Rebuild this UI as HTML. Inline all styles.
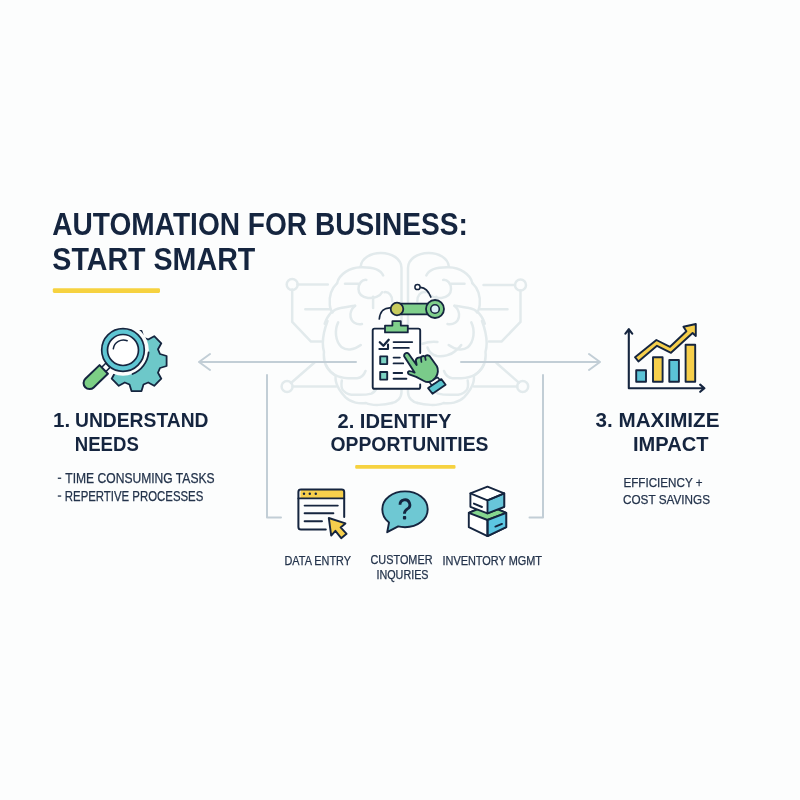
<!DOCTYPE html>
<html><head><meta charset="utf-8">
<style>
html,body{margin:0;padding:0;background:#fcfdfd;}
body{width:800px;height:800px;overflow:hidden;position:relative;}
svg{position:absolute;left:0;top:0;will-change:transform;}
text{font-family:"Liberation Sans",sans-serif;}
.t{fill:#15253f;font-weight:700;}
.s{fill:#23334b;font-weight:400;stroke:#23334b;stroke-width:0.25;}
</style></head><body>
<svg width="800" height="800" viewBox="0 0 800 800">
<!-- brain background -->
<g id="brain" fill="none" stroke="#e2eaec" stroke-width="2.5" stroke-linecap="round" stroke-linejoin="round">
 <g>
  <path d="M360.7 266.4 C361.5 258 371 252.8 381 252.9 C392 253 401.5 259 401.5 268 V392 C401.5 398 397 402 392 403"/>
  <path d="M337.1 283.2 C339 274 350 267.5 360.7 267.2 C370 267 380.5 269 383.2 275.4"/>
  <path d="M337.1 283.2 C331 289 329 297 329.8 305 C330.3 309 331 311 332.6 312.5"/>
  <path d="M324.7 323.7 C328 314 334 309 340.5 308 C346 307 352 306 355.1 305.7"/>
  <path d="M327.5 321 C323 333 322 345 324 352 C323 362 326 370 335.8 375.8 C334.5 382 337 388 345.3 397.2 C351 403 360 404 366 403 C372 406 385 405 392 403"/>
  <path d="M366.4 279.9 C362 279.5 358.5 283 358.5 289 C358.5 294 362 297 368 297.9 C374 298.5 380 296.5 382.1 292.2"/>
  <path d="M384.4 292.2 C389 291.5 392.5 296 392.2 301.2"/>
  <path d="M338.2 322.4 C334.5 330 335 341 341.8 347.3 C346 350.5 353.5 350.5 360.8 345"/>
  <path d="M326 365 C332 377 342 379 357.2 378.2 C361 377.8 364 375 365.5 371"/>
  <path d="M341.8 380.6 C341 386 342 390 344.1 391.3 C348 395 352 395 356 394.8 C362 395 368 394.5 371.4 393.6 C374.5 392 376.5 389 377.4 386.5"/>
  <path d="M373.1 296.7 V308"/>
  <path d="M345 283.8 H358.5"/>
  <path d="M355.1 305.7 C351 309 350 314 350.6 317 C351.5 322 356 325 362 324"/>
 </g>
 <g transform="matrix(-1 0 0 1 809.5 0)">
  <path d="M360.7 266.4 C361.5 258 371 252.8 381 252.9 C392 253 401.5 259 401.5 268 V392 C401.5 398 397 402 392 403"/>
  <path d="M337.1 283.2 C339 274 350 267.5 360.7 267.2 C370 267 380.5 269 383.2 275.4"/>
  <path d="M337.1 283.2 C331 289 329 297 329.8 305 C330.3 309 331 311 332.6 312.5"/>
  <path d="M324.7 323.7 C328 314 334 309 340.5 308 C346 307 352 306 355.1 305.7"/>
  <path d="M327.5 321 C323 333 322 345 324 352 C323 362 326 370 335.8 375.8 C334.5 382 337 388 345.3 397.2 C351 403 360 404 366 403 C372 406 385 405 392 403"/>
  <path d="M366.4 279.9 C362 279.5 358.5 283 358.5 289 C358.5 294 362 297 368 297.9 C374 298.5 380 296.5 382.1 292.2"/>
  <path d="M384.4 292.2 C389 291.5 392.5 296 392.2 301.2"/>
  <path d="M338.2 322.4 C334.5 330 335 341 341.8 347.3 C346 350.5 353.5 350.5 360.8 345"/>
  <path d="M326 365 C332 377 342 379 357.2 378.2 C361 377.8 364 375 365.5 371"/>
  <path d="M341.8 380.6 C341 386 342 390 344.1 391.3 C348 395 352 395 356 394.8 C362 395 368 394.5 371.4 393.6 C374.5 392 376.5 389 377.4 386.5"/>
  <path d="M373.1 296.7 V308"/>
  <path d="M345 283.8 H358.5"/>
  <path d="M355.1 305.7 C351 309 350 314 350.6 317 C351.5 322 356 325 362 324"/>
 </g>
 <path d="M422.5 343.75 C427 342 433 341.5 437.5 341.9"/>
 <path d="M427.5 347.5 C429 352 432 355 437 356 C443 357 451 355 455 351.25 C458 349 460 347 461.25 345"/>
 <!-- circuits left -->
 <circle cx="292.2" cy="284.4" r="5.5"/>
 <path d="M297.4 284.4 H327.8 M292.2 289.6 V321.9 L311 341.6 H321.3 M305.3 309.2 H330.6"/>
 <circle cx="287.1" cy="386.6" r="5.5"/>
 <path d="M292.6 386.6 H336 M291 383 L314.5 362.5"/>
 <!-- circuits right -->
 <circle cx="520.5" cy="285" r="5.5"/>
 <path d="M515 285 H483.5 M520.5 290.5 V321.9 L501.5 341.6 H489 M507.5 309.2 H480.5"/>
 <circle cx="522.7" cy="386.4" r="5.5"/>
 <path d="M517.2 386.4 H474 M518.8 382.6 L496.5 363"/>
</g>

<!-- ICON 1: magnifier + gear -->
<g id="ic1" stroke="#15253f" stroke-linejoin="round" stroke-linecap="round">
 <path d="M160.0 354.0 L166.6 356.0 L166.6 366.0 L160.0 368.0 L158.0 372.7 L161.3 378.7 L154.2 385.8 L148.2 382.5 L143.5 384.5 L141.5 391.1 L131.5 391.1 L129.5 384.5 L124.8 382.5 L118.8 385.8 L111.7 378.7 L115.0 372.7 L113.0 368.0 L106.4 366.0 L106.4 356.0 L113.0 354.0 L115.0 349.3 L111.7 343.3 L118.8 336.2 L124.8 339.5 L129.5 337.5 L131.5 330.9 L141.5 330.9 L143.5 337.5 L148.2 339.5 L154.2 336.2 L161.3 343.3 L158.0 349.3 Z" fill="#6dc8c9" stroke-width="1.8"/>
 <circle cx="123" cy="350" r="25.8" fill="#fcfdfd" stroke="none"/>
 <path d="M148.6 352.5 A25.8 25.8 0 0 1 132.5 374" fill="none" stroke-width="1.8"/>
 <g transform="translate(123 350.8) rotate(136)">
  <rect x="21" y="-3" width="6.5" height="6" fill="#ffffff" stroke-width="1.6"/>
  <path d="M26.8 -6 H46.5 A6 6 0 0 1 46.5 6 H26.8 Z" fill="#7ccf85" stroke-width="2"/>
 </g>
 <circle cx="123" cy="350" r="18.4" fill="none" stroke="#5fc6d3" stroke-width="5.2"/>
 <circle cx="123" cy="350" r="21.3" fill="none" stroke-width="1.7"/>
 <circle cx="123" cy="350" r="15.5" fill="#ffffff" stroke-width="1.7"/>
 <path d="M113.3 348.8 A10.2 10.2 0 0 1 127.2 340.8" fill="none" stroke-width="1.5"/>
</g>

<!-- ICON 2: clipboard + hand + robot arm -->
<g id="ic2" stroke="#15253f" stroke-linejoin="round" stroke-linecap="round">
 <!-- wires -->
 <path d="M390.5 307.8 C385 307.5 380 310.5 379.3 319" fill="none" stroke-width="1.7"/>
 <path d="M430.8 297 C428.5 291 425 287.5 420.5 287.3" fill="none" stroke-width="1.7"/>
 <circle cx="417.5" cy="287" r="2.6" fill="#ffffff" stroke-width="1.5"/>
 <!-- arm -->
 <rect x="400" y="303.6" width="30" height="10.8" fill="#7fcf8b" stroke-width="1.8"/>
 <circle cx="397" cy="309" r="6.3" fill="#c7cb5d" stroke-width="1.8"/>
 <circle cx="435" cy="309" r="9" fill="#7fcf8b" stroke-width="1.8"/>
 <circle cx="435" cy="309" r="4.3" fill="#dcf1f7" stroke-width="1.6"/>
 <!-- clipboard board -->
 <path d="M420.2 353 V330.5 Q420.2 328.6 418.3 328.6 H374.6 Q372.7 328.6 372.7 330.5 V386.9 Q372.7 388.8 374.6 388.8 H418.3 Q420.2 388.8 420.2 386.9 V384.5" fill="#ffffff" stroke-width="1.9"/>
 <!-- clip -->
 <path d="M392.4 325.6 V321.2 H400.8 V325.6 H407.8 V332.4 H385 V325.6 Z" fill="#7fcf8b" stroke-width="1.8"/>
 <!-- check row 1 -->
 <path d="M388 344.6 V349 H379.4" fill="none" stroke-width="2.1"/>
 <path d="M379.8 342.2 L383.4 345.8 L388.7 339.8" fill="none" stroke-width="2.3"/>
 <path d="M393.6 342.1 H412.2 M393.6 347.9 H408.8" fill="none" stroke-width="1.9"/>
 <!-- row 2 -->
 <rect x="380.2" y="356.4" width="7" height="7.7" fill="#7dd3c3" stroke-width="1.9"/>
 <path d="M393.6 357.6 H399.8 M393.6 363.4 H403.2" fill="none" stroke-width="1.9"/>
 <!-- row 3 -->
 <rect x="380.2" y="372" width="7" height="7.6" fill="#7dd3c3" stroke-width="1.9"/>
 <path d="M393.6 373 H402.2 M393.6 378.7 H406.4" fill="none" stroke-width="1.9"/>
 <!-- hand -->
 <path d="M429.2 381.8 L437.6 377.4 L440.6 380.8 L431.6 385.2 Z" fill="#ffffff" stroke-width="1.6"/>
 <path d="M428.1 388.1 L441.3 379.1 L445.6 384.7 L432.5 393.7 Z" fill="#5cc5cf" stroke-width="1.8"/>
 <path d="M404.6 357 A2.5 2.5 0 0 1 408.8 354 L416.6 365 L415.8 360 C416.5 358 418.8 357.2 420.9 357.4 C421.8 356.2 423.5 355.8 425 356.5 C426 355 427.6 354.9 429.4 355.8 L436.9 366.2 C438.4 369 438.4 374 435.6 377.5 C433.8 379.8 431.6 381.6 429 382 C427 382.2 425.4 381.8 424 381 L416.2 376.9 L409.2 374.4 C407.6 373.8 407.4 371.6 409 371.2 C410.4 370.9 412.5 371.6 414.6 372.6 Z" fill="#7acb8a" stroke-width="1.9"/>
 <path d="M420.9 357.4 L421.4 362 M425 356.5 L425.7 360" fill="none" stroke-width="1.7"/>
</g>

<!-- ICON 3: chart -->
<g id="ic3" stroke="#15253f" stroke-linejoin="round" stroke-linecap="round">
 <path d="M628.8 329.2 V388.2 H704.2 M625.4 333.6 L628.8 329.2 L632.2 333.6 M700.2 384.6 L704.4 388.2 L700.2 391.8" fill="none" stroke-width="2.1"/>
 <rect x="636.2" y="370.2" width="9.8" height="11.6" fill="#5bc3d6" stroke-width="1.9"/>
 <rect x="653" y="357.2" width="9.6" height="24.6" fill="#f6cf4c" stroke-width="1.9"/>
 <rect x="669.3" y="360" width="9.6" height="21.8" fill="#5bc3d6" stroke-width="1.9"/>
 <rect x="685.6" y="344.8" width="9.6" height="37" fill="#f6cf4c" stroke-width="1.9"/>
 <path d="M635 357.2 L656.4 340 L670 346.8 L686.4 331.2 L683.4 326.8 L695.8 324 L695.8 336 L692.6 333 L671 352.8 L657 345.8 L638.4 361.4 Z" fill="#f6cf4c" stroke-width="1.9"/>
</g>

<!-- ICON 4: window + cursor -->
<g id="ic4" stroke="#15253f" stroke-linejoin="round" stroke-linecap="round">
 <path d="M300.4 498.4 V492 Q300.4 489.6 302.8 489.6 H341.6 Q344 489.6 344 492 V498.4 Z" fill="#f6cf4c" stroke="none"/>
 <path d="M325.8 529.6 H301 Q298.4 529.6 298.4 527 V492 Q298.4 489.6 301 489.6 H341.6 Q344.2 489.6 344.2 492 V517" fill="none" stroke-width="2"/>
 <path d="M298.4 498.4 H344.2" fill="none" stroke-width="1.9"/>
 <circle cx="304" cy="493.8" r="1.2" fill="#15253f" stroke="none"/>
 <circle cx="309.8" cy="493.8" r="1.2" fill="#15253f" stroke="none"/>
 <circle cx="315.8" cy="493.8" r="1.2" fill="#15253f" stroke="none"/>
 <path d="M304.6 505.6 H337.8 M304.6 513.3 H333.4 M304.6 521.2 H322" fill="none" stroke-width="1.9"/>
 <path d="M328.8 518 L331.2 535.6 L335.4 530.8 L341.2 538.2 L346.6 533.8 L340.6 527.4 L345.4 523.4 Z" fill="#f6cf4c" stroke-width="1.9"/>
</g>

<!-- ICON 5: speech bubble -->
<g id="ic5" stroke="#15253f" stroke-linejoin="round" stroke-linecap="round">
 <path d="M389 522.6 C383.5 518.5 382.3 513.6 382.3 509.3 C382.3 499 392.4 491.4 405 491.4 C417.6 491.4 427.7 499 427.7 509.3 C427.7 519.6 417.6 527.2 405 527.2 C402.4 527.2 400.4 527 398.2 526.4 L387.2 532.2 Z" fill="#6ec8d3" stroke-width="1.9"/>
 <path d="M400 504.8 A4.9 4.9 0 1 1 407.4 508.9 C405.2 510.3 404.4 511.4 404.4 513.8" fill="none" stroke-width="2.8" stroke-linecap="butt"/>
 <rect x="402.9" y="516.1" width="3.3" height="3.4" rx="0.9" fill="#15253f" stroke="none"/>
</g>

<!-- ICON 6: boxes -->
<g id="ic6" stroke="#15253f" stroke-linejoin="round" stroke-linecap="round">
 <path d="M468.8 512.9 L487.5 505 L506.2 512.9 V527.2 L487.5 536.1 L468.8 527.2 Z" fill="#ffffff" stroke-width="1.9"/>
 <path d="M468.8 512.9 L487.5 505 L506.2 512.9 L487.5 520 Z" fill="#86d68f" stroke-width="1.9"/>
 <path d="M487.5 520 L506.2 512.9 V527.2 L487.5 536.1 Z" fill="#5cc6e2" stroke-width="1.9"/>
 <path d="M487.5 520 V536.1" fill="none" stroke-width="1.9"/>
 <path d="M470.4 493.4 L487.5 486.6 L504.2 493.4 V506.8 L487.5 513.3 L470.4 506.8 Z" fill="#ffffff" stroke-width="1.9"/>
 <path d="M487.5 500.3 L504.2 493.4 V506.8 L487.5 513.3 Z" fill="#68c6da" stroke-width="1.9"/>
 <path d="M470.4 493.4 L487.5 500.3 L504.2 493.4" fill="none" stroke-width="1.9"/>
 <path d="M473.9 503.6 L482 507 M495.4 526.6 L502 523.9" fill="none" stroke-width="1.9"/>
</g>

<!-- title -->
<text class="t" x="52.3" y="235" font-size="31" textLength="415.5" lengthAdjust="spacingAndGlyphs">AUTOMATION FOR BUSINESS:</text>
<text class="t" x="52.3" y="269.6" font-size="31" textLength="203" lengthAdjust="spacingAndGlyphs">START SMART</text>
<rect x="52.8" y="288.2" width="107.2" height="4.7" rx="1.3" fill="#f6d240"/>
<!-- arrows -->
<g fill="none" stroke="#c2ced6" stroke-width="2" stroke-linecap="round" stroke-linejoin="round">
<path d="M356 362 H199 M210 354 L199 362 L210 370"/>
<path d="M461 362 H600 M589 354 L600 362 L589 370"/>
<path d="M267 375 V517.5 H281"/>
<path d="M543 375 V517.5 H529.5"/>
</g>
<!-- section headings -->
<text class="t" x="53" y="427.2" font-size="20.5">1.</text>
<text class="t" x="75" y="427.2" font-size="20.5" textLength="133.5" lengthAdjust="spacingAndGlyphs">UNDERSTAND</text>
<text class="t" x="74.8" y="451.2" font-size="20.5" textLength="64" lengthAdjust="spacingAndGlyphs">NEEDS</text>
<rect x="57.8" y="477.6" width="3.4" height="1.3" fill="#23334b"/>
<text class="s" x="65.3" y="483.2" font-size="14" textLength="149.3" lengthAdjust="spacingAndGlyphs">TIME CONSUMING TASKS</text>
<rect x="57.8" y="495.4" width="3.4" height="1.3" fill="#23334b"/>
<text class="s" x="64.8" y="501" font-size="14" textLength="138.5" lengthAdjust="spacingAndGlyphs">REPERTIVE PROCESSES</text>

<text class="t" x="337.5" y="427.5" font-size="20.5" textLength="114" lengthAdjust="spacingAndGlyphs">2. IDENTIFY</text>
<text class="t" x="330.5" y="450.8" font-size="20.5" textLength="158" lengthAdjust="spacingAndGlyphs">OPPORTUNITIES</text>
<rect x="355.2" y="464.9" width="100.3" height="3.8" rx="1.2" fill="#f6d240"/>

<text class="t" x="595.5" y="427.2" font-size="20.5" textLength="124" lengthAdjust="spacingAndGlyphs">3. MAXIMIZE</text>
<text class="t" x="633" y="451.2" font-size="20.5" textLength="75.5" lengthAdjust="spacingAndGlyphs">IMPACT</text>
<text class="s" x="623.5" y="487" font-size="13" textLength="79" lengthAdjust="spacingAndGlyphs">EFFICIENCY +</text>
<text class="s" x="623" y="503.5" font-size="13" textLength="87" lengthAdjust="spacingAndGlyphs">COST SAVINGS</text>

<text class="s" x="284.5" y="564.5" font-size="12" textLength="66.5" lengthAdjust="spacingAndGlyphs">DATA ENTRY</text>
<text class="s" x="370.5" y="563.8" font-size="12" textLength="62" lengthAdjust="spacingAndGlyphs">CUSTOMER</text>
<text class="s" x="376.5" y="578.7" font-size="12" textLength="52" lengthAdjust="spacingAndGlyphs">INQURIES</text>
<text class="s" x="442.5" y="564.7" font-size="12" textLength="99.5" lengthAdjust="spacingAndGlyphs">INVENTORY MGMT</text>
</svg>
</body></html>
